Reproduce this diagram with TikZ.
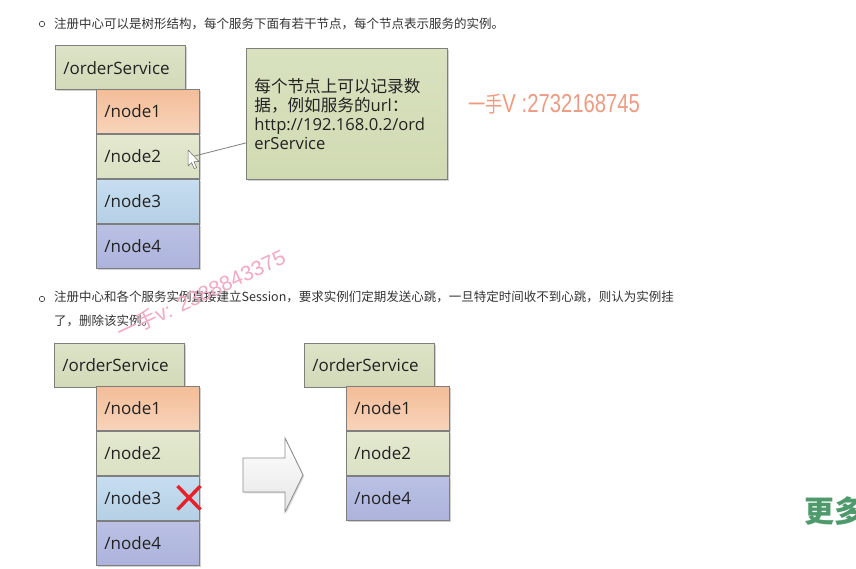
\documentclass[tikz,border=0pt]{standalone}
\usepackage{fontspec}
\setmainfont{Open Sans}
\newfontfamily\cjk{Noto Sans CJK SC}
\newfontfamily\wmfont{Liberation Sans}
\usetikzlibrary{shadows,calc}
\definecolor{boxline}{HTML}{7F7F7F}
\definecolor{txt}{HTML}{222222}
\definecolor{bodytxt}{HTML}{333333}
\definecolor{osA}{HTML}{DCE3C6}\definecolor{osB}{HTML}{D2DAB9}
\definecolor{nAa}{HTML}{F3BD98}\definecolor{nAb}{HTML}{F8D4BA}
\definecolor{nBa}{HTML}{E3E8CF}\definecolor{nBb}{HTML}{DBE1C3}
\definecolor{nCa}{HTML}{C6DEEF}\definecolor{nCb}{HTML}{B5CFE5}
\definecolor{nDa}{HTML}{BAC1E4}\definecolor{nDb}{HTML}{ADB3DC}
\definecolor{callA}{HTML}{D9E2BF}\definecolor{callB}{HTML}{D0DAB2}
\definecolor{wmA}{HTML}{EE9B82}
\definecolor{wmB}{HTML}{F2A9C2}
\definecolor{moregreen}{HTML}{4E9A6C}
\definecolor{xred}{HTML}{E8202A}
\tikzset{
  basebox/.style={draw=boxline, line width=0.8pt, anchor=north west, inner xsep=8pt, inner ysep=0pt,
    align=left, text=txt, font=\fontsize{17}{19}\selectfont,
    drop shadow={shadow xshift=1.3pt, shadow yshift=-1.3pt, opacity=0.18, fill=black}},
  osbox/.style={basebox, minimum width=130pt, text width=114pt, minimum height=43.5pt, top color=osA, bottom color=osB},
  nbox/.style={basebox, minimum width=103pt, text width=87pt, minimum height=44.2pt},
  nA/.style={nbox, top color=nAa, bottom color=nAb},
  nB/.style={nbox, top color=nBa, bottom color=nBb},
  nC/.style={nbox, top color=nCa, bottom color=nCb},
  nD/.style={nbox, top color=nDa, bottom color=nDb},
  callbox/.style={basebox, font=\fontsize{16.6}{19.2}\selectfont, minimum width=201pt, text width=185pt, minimum height=131pt, top color=callA, bottom color=callB},
  bullet/.style={draw=bodytxt, line width=0.6pt, circle, inner sep=0pt, minimum size=5.5pt},
  bodytext/.style={anchor=west, inner sep=0pt, text=bodytxt, font=\cjk\fontsize{12.5}{24}\selectfont, align=left},
  connector/.style={draw=boxline, line width=0.8pt},
}
\begin{document}
\begin{tikzpicture}[x=1pt,y=-1pt]
\clip (0,0) rectangle (856,569);
\fill[white] (0,0) rectangle (856,569);

% ---------- first bullet ----------
\node[bullet] (b1) at (42,24) {};
\node[bodytext] (t1) at (54,24) {注册中心可以是树形结构，每个服务下面有若干节点，每个节点表示服务的实例。};

% ---------- top tree ----------
\node[osbox] (os1) at (55,45.5) {/orderService};
\node[nA] (a1) at (96,89) {/node1};
\node[nB] (a2) at (a1.south west) {/node2};
\node[nC] (a3) at (a2.south west) {/node3};
\node[nD] (a4) at (a3.south west) {/node4};

\node[callbox] (call) at (246,48) {{\cjk 每个节点上可以记录数}\\{\cjk 据，例如服务的}url{\cjk ：}\\http://192.168.0.2/ord\\erService};

\coordinate (ptr) at (194.5,156);
\draw[connector] ($(call.north west)!0.72!(call.south west)$) -- (ptr);
% mouse pointer
\draw[fill=white, draw=black!60, line width=0.5pt, line join=round]
  (188,150) -- (188,166) -- (191.6,162.6) -- (194.2,168.6) -- (196.6,167.6) -- (194,161.6) -- (199,161.6) -- cycle;

% watermark 1
\node[anchor=base west, inner sep=0pt, text=wmA, xscale=0.78, font=\fontsize{26}{26}\selectfont] (wm1) at (468,113)
  {{\cjk\fontsize{22}{22}\selectfont 一手}{\wmfont V :2732168745}};

% ---------- second bullet ----------
\node[bullet] (b2) at (42,299) {};
\node[bodytext, anchor=north west] (t2) at (54,290.5) {注册中心和各个服务实例直接建立Session，要求实例们定期发送心跳，一旦特定时间收不到心跳，则认为实例挂\\了，删除该实例。};

% ---------- bottom left tree ----------
\node[osbox] (os2) at (54,343) {/orderService};
\node[nA] (c1) at (96,386) {/node1};
\node[nB] (c2) at (c1.south west) {/node2};
\node[nC] (c3) at (c2.south west) {/node3};
\node[nD] (c4) at (c3.south west) {/node4};

% red cross
\draw[xred, line width=3.4pt] (177.5,486) -- (200.5,509.5) (200.5,486) -- (177.5,509.5);

% big arrow
\path[draw=boxline!90, line width=0.8pt, line join=miter, top color=white, bottom color=black!10,
  drop shadow={shadow xshift=1.3pt, shadow yshift=-1.3pt, opacity=0.15, fill=black}]
  (243,458) -- (285,458) -- (285,438) -- (303,475) -- (285,512) -- (285,492) -- (243,492) -- cycle;

% ---------- bottom right tree ----------
\node[osbox] (os3) at (304,343) {/orderService};
\node[nA] (d1) at (346,386) {/node1};
\node[nB] (d2) at (d1.south west) {/node2};
\node[nD] (d4) at (d2.south west) {/node4};

% watermark 2
\node[anchor=south west, inner sep=0pt, text=wmB, rotate=25, font=\fontsize{21}{21}\selectfont] (wm2) at (122,342)
  {{\cjk 一手}{\wmfont v: 2388843375}};

% green text at right edge
\node[anchor=west, inner sep=0pt, text=moregreen, font=\cjk\bfseries\fontsize{30}{30}\selectfont] (more) at (804,511) {更多};
\end{tikzpicture}
\end{document}
